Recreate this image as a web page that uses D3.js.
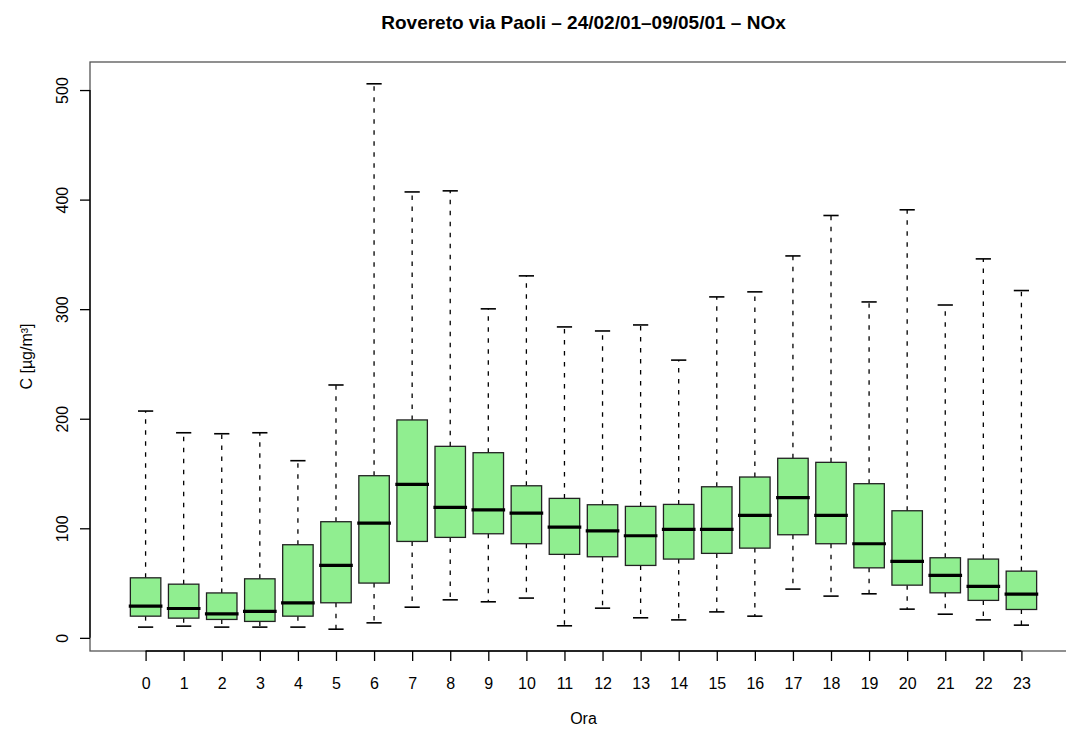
<!DOCTYPE html>
<html><head><meta charset="utf-8">
<script src="https://cdn.jsdelivr.net/npm/d3@7"></script>
<style>
body{margin:0;background:#fff}
svg{display:block}
text{font-family:"Liberation Sans",Arial,Helvetica,sans-serif;fill:#000}
</style>
</head><body>
<svg id="chart" width="1066" height="729"></svg>
<script>
// ---- data ----
const hours = ["0","1","2","3","4","5","6","7","8","9","10","11","12","13","14","15","16","17","18","19","20","21","22","23"];
const whiskerLow  = [9.8,10.7,9.8,9.8,9.8,7.9,13.7,28,34.7,32.9,36.3,11,27.1,18.3,16.4,23.7,19.8,44.5,38.1,40.2,26.2,21.6,16.4,11.6];
const q1          = [19.8,18,16.8,15,19.8,32,50,88,91.7,95,85.9,76.2,74,66.1,71.9,77.1,81.9,94.1,85.9,63.9,48.1,41.1,34.2,25.9];
const median      = [29,26.8,21.9,24.1,32,66.1,104.8,140.1,119.1,116.9,113.9,101.1,97.7,93.2,99,99,111.8,127.9,111.8,85.9,69.8,57,46.9,39.9];
const q3          = [54.8,49,41,53.9,85,106,148,198.9,174.8,169,138.8,127.3,121.5,120,121.8,137.9,146.8,163.9,160.2,140.7,116,73.1,71.9,60.9];
const whiskerHigh = [207,187.2,186.3,187.2,161.7,230.8,505.7,407,408,300.3,330.4,283.8,280.1,285.6,253.5,311.2,315.8,348.6,385.5,306.6,390.7,303.8,345.9,317];
const yTicks = [0,100,200,300,400,500];
const yDomain = [-12, 525.6];
const titleText = "Rovereto via Paoli \u2013 24/02/01\u201309/05/01 \u2013 NOx";
const xLabelText = "Ora";
const yLabelText = "C [\u00b5g/m\u00b3]";

// ---- layout ----
const plot = {left: 90, right: 1077, top: 62, bottom: 651};
const svg = d3.select("#chart");

const x = d3.scalePoint().domain(hours).range([plot.left, plot.right]).padding(1.46);
const y = d3.scaleLinear().domain(yDomain).range([plot.bottom, plot.top]);
const boxW = x.step() * 0.8;
const stapleW = boxW * 0.5;

const data = hours.map((h, i) => ({h, lo: whiskerLow[i], q1: q1[i], med: median[i], q3: q3[i], hi: whiskerHigh[i]}));

// frame
svg.append("rect")
  .attr("x", plot.left).attr("y", plot.top)
  .attr("width", plot.right - plot.left).attr("height", plot.bottom - plot.top)
  .attr("fill", "none").attr("stroke", "#555").attr("stroke-width", 1.3);

const g = svg.append("g");
const box = g.selectAll("g.box").data(data).join("g").attr("class", "box");

// whiskers (dashed)
box.append("line")
  .attr("x1", d => x(d.h)).attr("x2", d => x(d.h))
  .attr("y1", d => y(d.q3)).attr("y2", d => y(d.hi))
  .attr("stroke", "#000").attr("stroke-width", 1.3).attr("stroke-dasharray", "4.5,6.5");
box.append("line")
  .attr("x1", d => x(d.h)).attr("x2", d => x(d.h))
  .attr("y1", d => y(d.q1)).attr("y2", d => y(d.lo))
  .attr("stroke", "#000").attr("stroke-width", 1.3).attr("stroke-dasharray", "4.5,6.5");
// staples
box.append("line")
  .attr("x1", d => x(d.h) - stapleW / 2).attr("x2", d => x(d.h) + stapleW / 2)
  .attr("y1", d => y(d.hi)).attr("y2", d => y(d.hi))
  .attr("stroke", "#000").attr("stroke-width", 1.6);
box.append("line")
  .attr("x1", d => x(d.h) - stapleW / 2).attr("x2", d => x(d.h) + stapleW / 2)
  .attr("y1", d => y(d.lo)).attr("y2", d => y(d.lo))
  .attr("stroke", "#000").attr("stroke-width", 1.6);
// boxes
box.append("rect")
  .attr("x", d => x(d.h) - boxW / 2).attr("width", boxW)
  .attr("y", d => y(d.q3)).attr("height", d => y(d.q1) - y(d.q3))
  .attr("fill", "#90EE90").attr("stroke", "#222").attr("stroke-width", 1.3);
// medians
box.append("line")
  .attr("x1", d => x(d.h) - boxW / 2).attr("x2", d => x(d.h) + boxW / 2)
  .attr("y1", d => y(d.med)).attr("y2", d => y(d.med))
  .attr("stroke", "#000").attr("stroke-width", 3.2).attr("stroke-linecap", "square");

// x axis
const xAxis = svg.append("g").attr("transform", `translate(0,${plot.bottom})`)
  .call(d3.axisBottom(x).tickSize(10).tickSizeOuter(0).tickPadding(17));
xAxis.select(".domain").remove();
xAxis.selectAll(".tick line").attr("stroke", "#000").attr("stroke-width", 1.3);
xAxis.selectAll("text").attr("font-size", 16).attr("font-family", "Liberation Sans, Arial, sans-serif");
svg.append("line")
  .attr("x1", x(hours[0])).attr("x2", x(hours[hours.length - 1]))
  .attr("y1", plot.bottom).attr("y2", plot.bottom)
  .attr("stroke", "#000").attr("stroke-width", 1.3);

// y axis
const yAxis = svg.append("g").attr("transform", `translate(${plot.left},0)`)
  .call(d3.axisLeft(y).tickValues(yTicks).tickSize(10).tickSizeOuter(0));
yAxis.select(".domain").remove();
yAxis.selectAll(".tick line").attr("stroke", "#000").attr("stroke-width", 1.3);
yAxis.selectAll("text")
  .attr("font-size", 16).attr("font-family", "Liberation Sans, Arial, sans-serif")
  .attr("transform", "rotate(-90)")
  .attr("x", 0).attr("y", -22.5).attr("dy", 0)
  .attr("text-anchor", "middle");
svg.append("line")
  .attr("x1", plot.left).attr("x2", plot.left)
  .attr("y1", y(yTicks[0])).attr("y2", y(yTicks[yTicks.length - 1]))
  .attr("stroke", "#000").attr("stroke-width", 1.3);

// title and labels
const cx = (plot.left + plot.right) / 2;
svg.append("text").attr("x", cx).attr("y", 29)
  .attr("text-anchor", "middle").attr("font-size", 19).attr("font-weight", "bold")
  .text(titleText);
svg.append("text").attr("x", cx).attr("y", 724)
  .attr("text-anchor", "middle").attr("font-size", 16)
  .text(xLabelText);
svg.append("text")
  .attr("transform", `translate(32,${(plot.top + plot.bottom) / 2}) rotate(-90)`)
  .attr("text-anchor", "middle").attr("font-size", 16)
  .text(yLabelText);
</script>
</body></html>
